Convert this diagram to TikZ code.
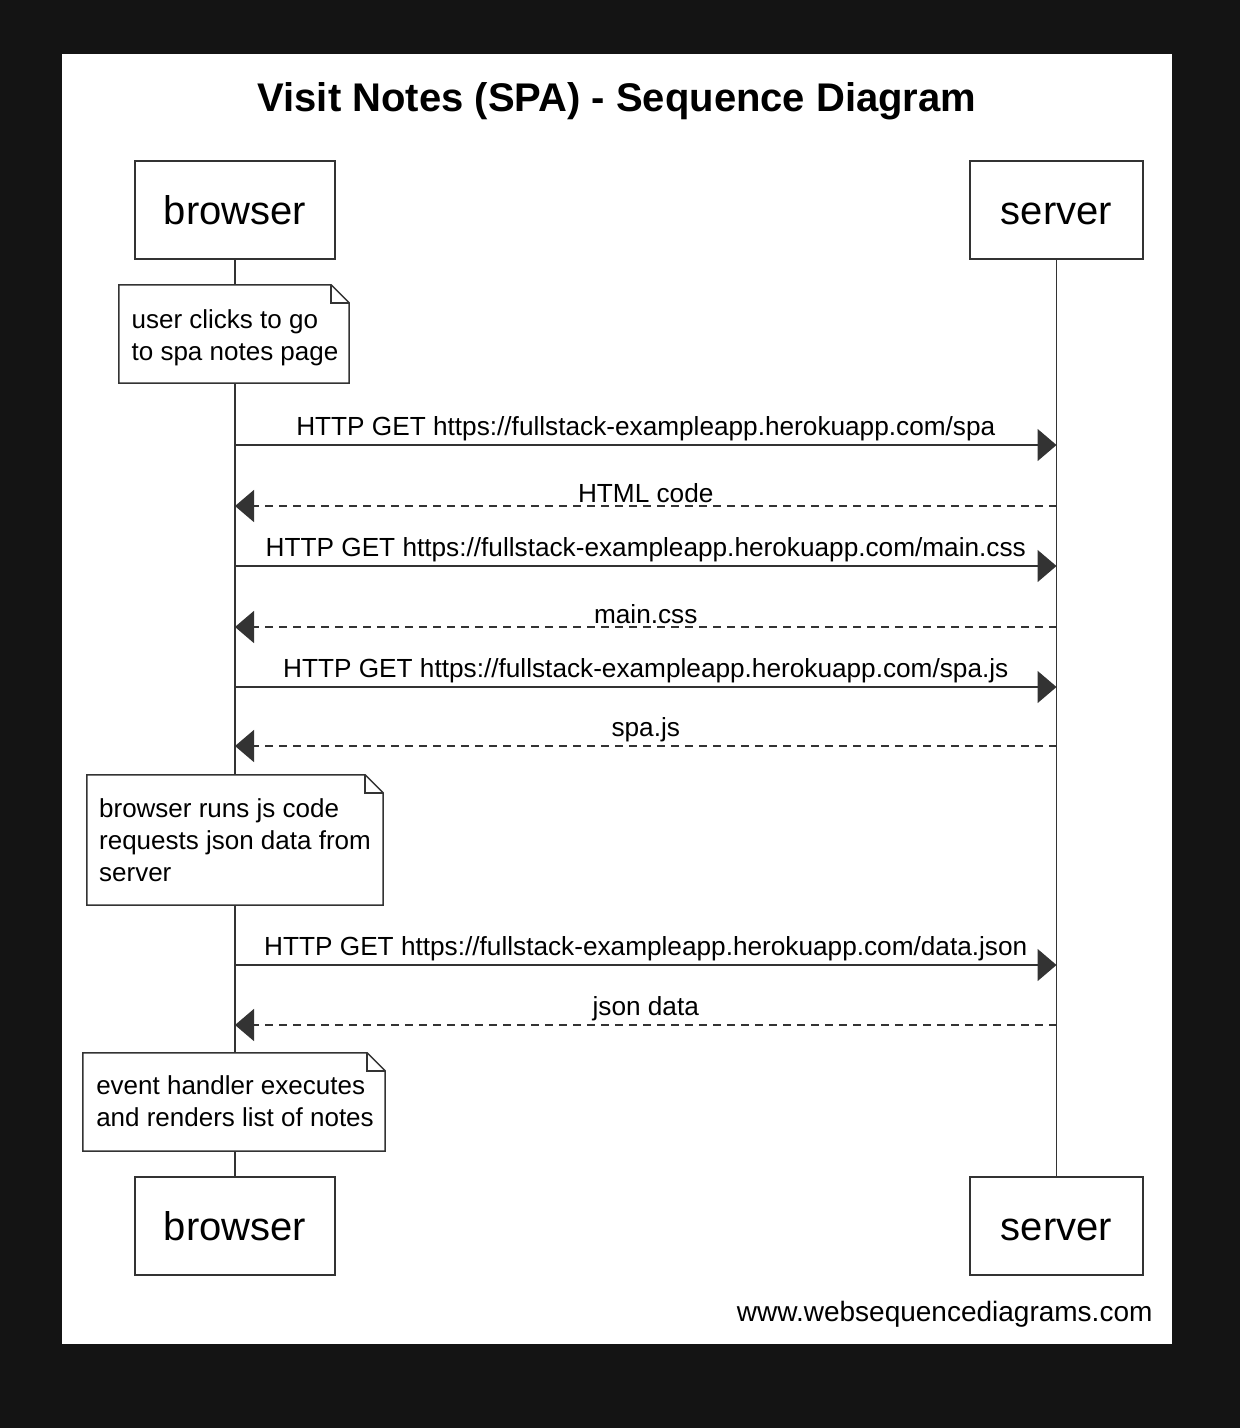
\documentclass[tikz,border=0pt]{standalone}
\usepackage{fontspec}
\setmainfont{Liberation Sans}
\usetikzlibrary{arrows.meta}
\definecolor{ink}{HTML}{333333}
\begin{document}
\begin{tikzpicture}[x=1pt,y=-1pt,
  actor/.style={draw=ink,line width=1.5pt,fill=white,inner sep=0pt,text height=33pt,text depth=4pt,font=\fontsize{40}{48}\selectfont},
  lifeline/.style={draw=ink,line width=1.5pt},
  notebox/.style={inner sep=0pt,align=left,font=\fontsize{26}{32}\selectfont},
  notepath/.style={draw=ink,line width=1.5pt,fill=white},
  msg/.style={draw=ink,line width=1.5pt,-{Triangle[length=19pt,width=32pt]}},
  reply/.style={msg,dash pattern=on 8pt off 6pt},
  mlabel/.style={font=\fontsize{26.2}{30}\selectfont,anchor=south,inner sep=0pt,text=black}
]
\useasboundingbox (0,0) rectangle (1240,1428);
\fill[black!92] (0,0) rectangle (1240,1428);
\fill[white] (62,54) rectangle (1172,1344);

\node[font=\fontsize{40}{48}\selectfont\bfseries] (title) at (617,101) {Visit Notes (SPA) - Sequence Diagram};

% actors
\node[actor,minimum width=200pt,minimum height=98pt] (bTop) at (235,210) {browser};
\node[actor,minimum width=173pt,minimum height=98pt] (sTop) at (1056.5,210) {server};
\node[actor,minimum width=200pt,minimum height=98pt] (bBot) at (235,1226) {browser};
\node[actor,minimum width=173pt,minimum height=98pt] (sBot) at (1056.5,1226) {server};

\draw[lifeline] (bTop.south) -- (bBot.north);
\draw[lifeline] (sTop.south) -- (sBot.north);

% notes
\newcommand{\notefold}[1]{%
  \path[notepath] (#1.south west) -- (#1.north west) -- ([xshift=-18pt]#1.north east)
     -- ([yshift=-18pt]#1.north east) -- (#1.south east) -- cycle;
  \draw[ink,line width=1.5pt] ([xshift=-18pt]#1.north east) -- ([xshift=-18pt,yshift=-18pt]#1.north east) -- ([yshift=-18pt]#1.north east);}

\node[notebox,minimum width=230pt,minimum height=98pt] (n1) at (234,334) {};
\notefold{n1}
\node[notebox] at (235,338) {user clicks to go\\to spa notes page};

\node[notebox,minimum width=296pt,minimum height=130pt] (n2) at (235,840) {};
\notefold{n2}
\node[notebox] at (235,840) {browser runs js code\\requests json data from\\server};

\node[notebox,minimum width=302pt,minimum height=98pt] (n3) at (234,1102) {};
\notefold{n3}
\node[notebox] at (235,1101) {event handler executes\\and renders list of notes};

% message end points
\foreach \i/\y in {1/445,2/506,3/566,4/627,5/687,6/746,7/965,8/1025}{
  \coordinate (b\i) at (bTop.south |- 0,\y);
  \coordinate (s\i) at (sTop.south |- 0,\y);
}

\draw[msg] (b1) -- node[mlabel,above=3pt] {HTTP GET https://fullstack-exampleapp.herokuapp.com/spa} (s1);
\draw[reply] (s2) -- node[mlabel,above=3pt] {HTML code} (b2);
\draw[msg] (b3) -- node[mlabel,above=3pt] {HTTP GET https://fullstack-exampleapp.herokuapp.com/main.css} (s3);
\draw[reply] (s4) -- node[mlabel,above=3pt] {main.css} (b4);
\draw[msg] (b5) -- node[mlabel,above=3pt] {HTTP GET https://fullstack-exampleapp.herokuapp.com/spa.js} (s5);
\draw[reply] (s6) -- node[mlabel,above=3pt] {spa.js} (b6);
\draw[msg] (b7) -- node[mlabel,above=3pt] {HTTP GET https://fullstack-exampleapp.herokuapp.com/data.json} (s7);
\draw[reply] (s8) -- node[mlabel,above=3pt] {json data} (b8);

\node[font=\fontsize{28}{32}\selectfont,anchor=east] (footer) at (1156,1314) {www.websequencediagrams.com};
\end{tikzpicture}
\end{document}
